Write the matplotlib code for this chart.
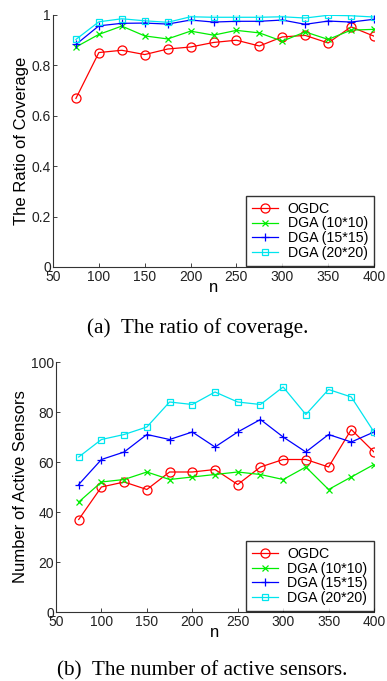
import matplotlib
matplotlib.use("Agg")
import matplotlib.pyplot as plt

n = [75, 100, 125, 150, 175, 200, 225, 250, 275, 300, 325, 350, 375, 400]
labels = ["OGDC", "DGA (10*10)", "DGA (15*15)", "DGA (20*20)"]

cov_ogdc = [0.669, 0.851, 0.860, 0.843, 0.865, 0.873, 0.891, 0.900, 0.877, 0.913, 0.919, 0.889, 0.953, 0.916]
cov_dga10 = [0.873, 0.923, 0.956, 0.917, 0.905, 0.936, 0.920, 0.939, 0.929, 0.896, 0.933, 0.903, 0.940, 0.943]
cov_dga15 = [0.883, 0.957, 0.967, 0.968, 0.964, 0.980, 0.972, 0.975, 0.975, 0.980, 0.963, 0.976, 0.972, 0.983]
cov_dga20 = [0.903, 0.973, 0.985, 0.977, 0.971, 0.993, 0.991, 0.991, 0.991, 0.993, 0.988, 0.999, 0.997, 0.992]

act_ogdc = [37, 50, 52, 49, 56, 56, 57, 51, 58, 61, 61, 58, 73, 64]
act_dga10 = [44, 52, 53, 56, 53, 54, 55, 56, 55, 53, 58, 49, 54, 59]
act_dga15 = [51, 61, 64, 71, 69, 72, 66, 72, 77, 70, 64, 71, 68, 72]
act_dga20 = [62, 69, 71, 74, 84, 83, 88, 84, 83, 90, 79, 89, 86, 72]

styles = [("#ff0000", "o", 6.5), ("#00ee00", "x", 4.5), ("#0000ff", "+", 6.0), ("#00e5ee", "s", 5.0)]

plt.rcParams["font.family"] = ["Liberation Sans", "DejaVu Sans"]
plt.rcParams["font.size"] = 10

W, H = 387, 681
fig = plt.figure(figsize=(W / 100, H / 100), dpi=100)


def make_ax(left, top, right, bottom):
    return fig.add_axes([left / W, 1 - bottom / H, (right - left) / W, (bottom - top) / H])


def style_ax(ax):
    for s in ["top", "right"]:
        ax.spines[s].set_visible(False)
    for s in ["left", "bottom"]:
        ax.spines[s].set_color("#333333")
        ax.spines[s].set_linewidth(0.8)
    ax.tick_params(direction="in", length=3, width=0.6, colors="#222222", labelsize=10, pad=1.5)
    ax.tick_params(axis="x", pad=2.5)
    ax.set_xlim(50, 400)
    ax.set_xticks(range(50, 401, 50))


def plot_series(ax, series):
    for ys, lab, (c, m, ms) in zip(series, labels, styles):
        ax.plot(n, ys, color=c, marker=m, markersize=ms, markerfacecolor="none",
                markeredgecolor=c, linewidth=0.9, markeredgewidth=0.9, label=lab)
    leg = ax.legend(loc="lower right", bbox_to_anchor=(1.003, 0.0), fontsize=10.2,
                    frameon=True, fancybox=False, edgecolor="black", handlelength=1.8,
                    handletextpad=0.7, borderpad=0.4, labelspacing=0.05, borderaxespad=0.1)
    leg.get_frame().set_linewidth(1.0)


ax1 = make_ax(53, 15, 374, 267)
style_ax(ax1)
plot_series(ax1, [cov_ogdc, cov_dga10, cov_dga15, cov_dga20])
ax1.set_ylim(0, 1)
ax1.set_yticks([0, 0.2, 0.4, 0.6, 0.8, 1])
ax1.set_yticklabels(["0", "0.2", "0.4", "0.6", "0.8", "1"])
ax1.set_xlabel("n", fontsize=12, labelpad=-3)
ax1.set_ylabel("The Ratio of Coverage", fontsize=12, labelpad=2)

ax2 = make_ax(56, 362, 374, 612)
style_ax(ax2)
plot_series(ax2, [act_ogdc, act_dga10, act_dga15, act_dga20])
ax2.set_ylim(0, 100)
ax2.set_yticks([0, 20, 40, 60, 80, 100])
ax2.set_xlabel("n", fontsize=12, labelpad=-3)
ax2.set_ylabel("Number of Active Sensors", fontsize=12, labelpad=2)

fig.text(197.5 / W, 1 - 328 / H, "(a)  The ratio of coverage.", ha="center", va="center",
         family=["Liberation Serif", "DejaVu Serif"], fontsize=15.3)
fig.text(202 / W, 1 - 671 / H, "(b)  The number of active sensors.", ha="center", va="center",
         family=["Liberation Serif", "DejaVu Serif"], fontsize=15.3)

fig.savefig("out.png", dpi=100)
